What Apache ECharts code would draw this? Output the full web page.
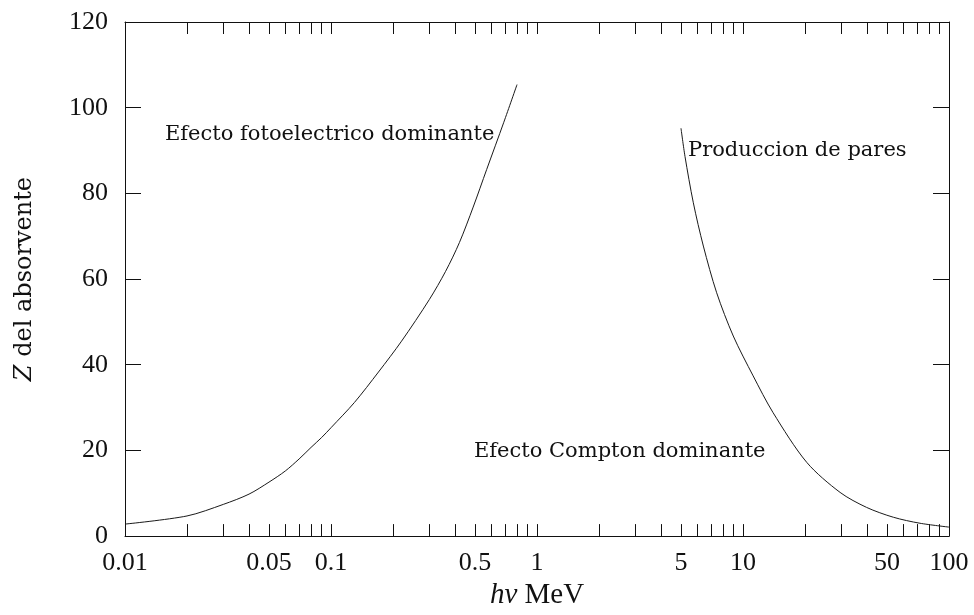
<!DOCTYPE html>
<html lang="es">
<head>
<meta charset="UTF-8">
<title>Z del absorvente vs h nu</title>
<script src="https://cdn.jsdelivr.net/npm/echarts@6/dist/echarts.min.js"></script>
<style>
  html, body { margin: 0; padding: 0; background: #fff; }
  #main { width: 974px; height: 615px; }
</style>
</head>
<body>
<div id="main"></div>
<script type="text/javascript">
// curva efecto fotoelectrico / Compton
var photoX = [0.01, 0.02, 0.03, 0.04, 0.05, 0.06, 0.07, 0.08, 0.09, 0.1, 0.13, 0.17, 0.22, 0.3, 0.36, 0.42, 0.49, 0.57, 0.69, 0.8];
var photoZ = [2.8, 4.7, 7.4, 9.8, 12.6, 15.2, 18.0, 20.7, 23.0, 25.3, 31.2, 38.3, 45.5, 55.2, 61.8, 68.5, 76.8, 85.6, 96.6, 105.4];
// curva Compton / produccion de pares
var pairX = [5, 5.23, 5.74, 6.42, 7.45, 8.97, 11.2, 14, 20.4, 29.6, 39.8, 53.7, 72.3, 100];
var pairZ = [95.2, 88.6, 77.8, 67.7, 56.8, 46.7, 37.4, 28.8, 17.2, 10.2, 6.7, 4.4, 3.0, 2.1];

var xTickValues = [0.01, 0.02, 0.03, 0.04, 0.05, 0.06, 0.07, 0.08, 0.09,
                   0.1, 0.2, 0.3, 0.4, 0.5, 0.6, 0.7, 0.8, 0.9,
                   1, 2, 3, 4, 5, 6, 7, 8, 9,
                   10, 20, 30, 40, 50, 60, 70, 80, 90, 100];
var xLabelValues = [0.01, 0.05, 0.1, 0.5, 1, 5, 10, 50, 100];
var yLabelValues = [0, 20, 40, 60, 80, 100, 120];

function pairs(xs, ys) {
  var out = [];
  for (var i = 0; i < xs.length; i++) out.push([xs[i], ys[i]]);
  return out;
}

var numFont = 'Liberation Serif';
var txtFont = 'DejaVu Serif';
var ink = '#111';

var myChart = echarts.init(document.getElementById('main'));

var xBase = {
  type: 'log',
  logBase: 10,
  min: 0.01,
  max: 100,
  gridIndex: 0,
  splitLine: { show: false },
  axisLine: { show: true, onZero: false, lineStyle: { color: ink, width: 1 } },
  axisTick: { show: true, inside: true, length: 12, customValues: xTickValues, lineStyle: { color: ink, width: 1 } },
  minorTick: { show: false }
};

var yBase = {
  type: 'value',
  min: 0,
  max: 120,
  interval: 20,
  gridIndex: 0,
  splitLine: { show: false },
  axisLine: { show: true, onZero: false, lineStyle: { color: ink, width: 1 } },
  axisTick: { show: true, inside: true, length: 16, lineStyle: { color: ink, width: 1 } }
};

var curveStyle = { color: '#1a1a1a', width: 1 };

myChart.setOption({
  backgroundColor: '#fff',
  animation: false,
  grid: { left: 125, right: 25, top: 22, bottom: 78, containLabel: false },
  xAxis: [
    Object.assign({}, xBase, {
      position: 'bottom',
      name: '{i|hν} MeV',
      nameLocation: 'middle',
      nameGap: 42,
      nameTextStyle: {
        fontFamily: numFont, fontSize: 29, color: ink,
        rich: { i: { fontFamily: numFont, fontSize: 29, fontStyle: 'italic', color: ink } }
      },
      axisLabel: {
        show: true,
        customValues: xLabelValues,
        margin: 14,
        fontFamily: numFont,
        fontSize: 26,
        color: ink,
        formatter: function (v) { return String(parseFloat(Number(v).toPrecision(6))); }
      }
    }),
    Object.assign({}, xBase, {
      position: 'top',
      axisLabel: { show: false }
    })
  ],
  yAxis: [
    Object.assign({}, yBase, {
      position: 'left',
      name: '{i|Z} del absorvente',
      nameLocation: 'middle',
      nameGap: 88,
      nameRotate: 90,
      nameTextStyle: {
        fontFamily: txtFont, fontSize: 24, color: ink,
        rich: { i: { fontFamily: txtFont, fontSize: 24, fontStyle: 'italic', color: ink } }
      },
      axisLabel: {
        show: true,
        customValues: yLabelValues,
        margin: 17,
        fontFamily: numFont,
        fontSize: 26,
        color: ink
      }
    }),
    Object.assign({}, yBase, {
      position: 'right',
      axisLabel: { show: false }
    })
  ],
  series: [
    {
      name: 'fotoelectrico',
      type: 'line',
      xAxisIndex: 0,
      yAxisIndex: 0,
      data: pairs(photoX, photoZ),
      showSymbol: false,
      smooth: 0.3,
      lineStyle: curveStyle
    },
    {
      name: 'pares',
      type: 'line',
      xAxisIndex: 0,
      yAxisIndex: 0,
      data: pairs(pairX, pairZ),
      showSymbol: false,
      smooth: 0.3,
      lineStyle: curveStyle
    }
  ],
  graphic: [
    {
      type: 'text', left: 165, top: 124,
      style: { text: 'Efecto fotoelectrico dominante', font: '21px "DejaVu Serif"', fill: ink, textVerticalAlign: 'middle' }
    },
    {
      type: 'text', left: 688, top: 140,
      style: { text: 'Produccion de pares', font: '21px "DejaVu Serif"', fill: ink, textVerticalAlign: 'middle' }
    },
    {
      type: 'text', left: 474, top: 441,
      style: { text: 'Efecto Compton dominante', font: '21px "DejaVu Serif"', fill: ink, textVerticalAlign: 'middle' }
    }
  ]
});
</script>
</body>
</html>
